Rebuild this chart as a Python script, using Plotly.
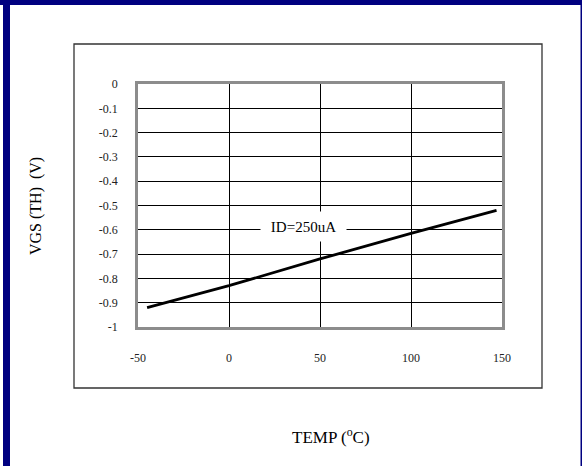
import plotly.graph_objects as go

temp = [-45, 0, 50, 100, 147]
vgs = [-0.92, -0.83, -0.72, -0.615, -0.52]
x_ticks = [-50, 0, 50, 100, 150]
y_ticks = [0, -0.1, -0.2, -0.3, -0.4, -0.5, -0.6, -0.7, -0.8, -0.9, -1]
y_labels = ["0", "-0.1", "-0.2", "-0.3", "-0.4", "-0.5", "-0.6", "-0.7", "-0.8", "-0.9", "-1"]

W, H = 582, 466
L, R, T, B = 138, 502, 84, 327
PW, PH = R - L, B - T


def px(x):
    return (x - L) / PW


def py(y):
    return (B - y) / PH


FONT = "Liberation Serif"

fig = go.Figure()
fig.add_trace(go.Scatter(x=temp, y=vgs, mode="lines",
                         line=dict(color="black", width=2.8), showlegend=False,
                         hoverinfo="skip"))

shapes = [
    # navy frame
    dict(type="rect", xref="paper", yref="paper", x0=px(0), x1=px(W), y0=py(5), y1=py(0),
         fillcolor="#000080", line=dict(width=0), layer="below"),
    dict(type="rect", xref="paper", yref="paper", x0=px(3), x1=px(10), y0=py(H), y1=py(0),
         fillcolor="#000080", line=dict(width=0), layer="below"),
    dict(type="rect", xref="paper", yref="paper", x0=px(580.5), x1=px(W), y0=py(H), y1=py(0),
         fillcolor="#000080", line=dict(width=0), layer="below"),
    # outer chart box
    dict(type="rect", xref="paper", yref="paper", x0=px(74), x1=px(542), y0=py(388), y1=py(44),
         line=dict(color="#333333", width=1.3), layer="below"),
]

annotations = [
    dict(x=41, y=-0.585, xref="x", yref="y", text="ID=250uA", showarrow=False,
         font=dict(family=FONT, size=15, color="black"), bgcolor="white",
         width=83, height=27),
    dict(x=px(331), y=py(449), xref="paper", yref="paper", text="TEMP (<sup>o</sup>C)",
         showarrow=False, font=dict(family=FONT, size=17, color="black")),
    dict(x=px(25), y=py(206), xref="paper", yref="paper", text="VGS (TH)  (V)",
         showarrow=False, textangle=-90, font=dict(family=FONT, size=16, color="black")),
]

fig.update_layout(
    width=W, height=H,
    margin=dict(l=L, r=W - R, t=T, b=H - B, pad=0),
    paper_bgcolor="white", plot_bgcolor="white",
    shapes=shapes, annotations=annotations,
    font=dict(family=FONT, size=12, color="#222222"),
    xaxis=dict(range=[-50, 150], tickvals=x_ticks, ticktext=[str(v) for v in x_ticks],
               showgrid=True, gridcolor="black", gridwidth=1, zeroline=False,
               showline=True, linecolor="#8c8c8c", linewidth=2.5, mirror=True,
               ticks="", ticklabelstandoff=18, fixedrange=True),
    yaxis=dict(range=[-1, 0], tickvals=y_ticks, ticktext=y_labels,
               showgrid=True, gridcolor="black", gridwidth=1, zeroline=False,
               showline=True, linecolor="#8c8c8c", linewidth=2.5, mirror=True,
               ticks="", ticklabelstandoff=15, fixedrange=True),
)

fig.write_html("out.html", config={"displayModeBar": False},
               post_script="document.body.style.margin='0';document.body.style.overflow='hidden';")
